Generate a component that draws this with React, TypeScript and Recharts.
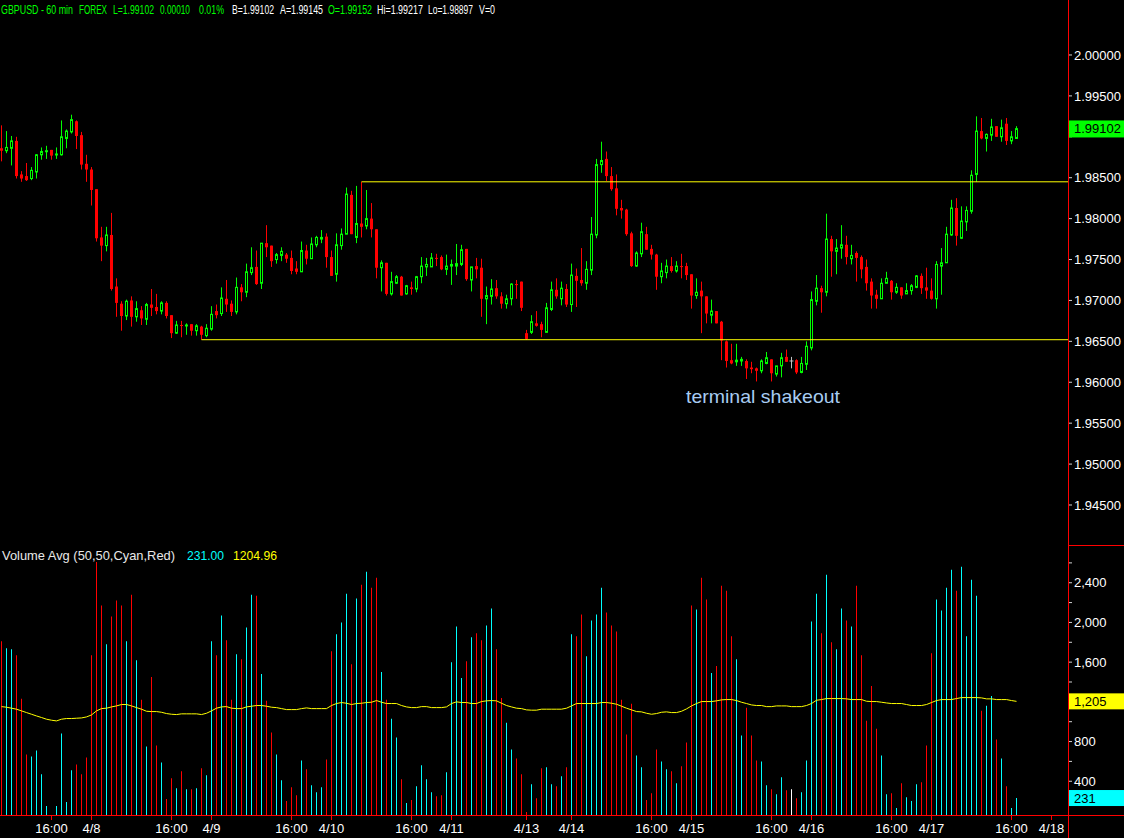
import React from "react";
import { ComposedChart, Bar, Line, XAxis, YAxis, Cell, ReferenceLine } from "recharts";

// GBPUSD hourly candles, bar 0 .. 203
const opens = [
  1.9886, 1.9883, 1.9886, 1.9895, 1.9854, 1.9852, 1.9849, 1.9857, 1.9878, 1.9882,
  1.9884, 1.9878, 1.9878, 1.9898, 1.9906, 1.9919, 1.9902, 1.9867, 1.986, 1.9836,
  1.9777, 1.9767, 1.978, 1.9717, 1.9696, 1.9681, 1.97, 1.968, 1.9688, 1.9677,
  1.9695, 1.9692, 1.9687, 1.9697, 1.9682, 1.966, 1.967, 1.9669, 1.9671, 1.9663,
  1.9668, 1.9657, 1.9665, 1.9687, 1.9684, 1.9702, 1.9696, 1.9686, 1.9716, 1.971,
  1.9734, 1.9741, 1.9721, 1.977, 1.9767, 1.975, 1.9755, 1.9756, 1.9752, 1.9739,
  1.9735, 1.9761, 1.9751, 1.9768, 1.9775, 1.9778, 1.9753, 1.9732, 1.9767, 1.9781,
  1.9829, 1.9777, 1.9794, 1.9791, 1.98, 1.9787, 1.974, 1.9746, 1.9708, 1.9721,
  1.9729, 1.9708, 1.9716, 1.9714, 1.9729, 1.9741, 1.9741, 1.9752, 1.9753, 1.9738,
  1.9742, 1.9742, 1.9744, 1.9763, 1.9725, 1.9742, 1.974, 1.9702, 1.9705, 1.9715,
  1.9705, 1.9696, 1.9702, 1.972, 1.9723, 1.966, 1.9661, 1.9672, 1.9671, 1.9661,
  1.9689, 1.9713, 1.9702, 1.9714, 1.9695, 1.973, 1.9725, 1.9721, 1.9737, 1.978,
  1.9866, 1.9873, 1.9852, 1.9837, 1.9813, 1.9811, 1.9782, 1.9742, 1.9757, 1.9781,
  1.9763, 1.9756, 1.9729, 1.9734, 1.9742, 1.9736, 1.9742, 1.9742, 1.9732, 1.9706,
  1.9712, 1.9705, 1.9682, 1.9687, 1.9674, 1.965, 1.9627, 1.9625, 1.9626, 1.9626,
  1.9618, 1.9617, 1.9614, 1.9623, 1.9628, 1.961, 1.962, 1.9631, 1.9626, 1.9627,
  1.9612, 1.9622, 1.9642, 1.9699, 1.9715, 1.971, 1.9775, 1.976, 1.9764, 1.9768,
  1.9751, 1.9758, 1.9753, 1.9741, 1.9723, 1.9707, 1.9702, 1.9721, 1.9724, 1.971,
  1.9716, 1.9708, 1.9712, 1.9716, 1.973, 1.9716, 1.9712, 1.9702, 1.9742, 1.9746,
  1.978, 1.9813, 1.9776, 1.9796, 1.9809, 1.9854, 1.9907, 1.9898, 1.9902, 1.9913,
  1.99, 1.9916, 1.9895, 1.9898,
];
const highs = [
  1.9914, 1.9907, 1.9901, 1.99, 1.9858, 1.9868, 1.9863, 1.9879, 1.9887, 1.9889,
  1.9884, 1.9887, 1.992, 1.9909, 1.9927, 1.992, 1.9906, 1.9878, 1.9863, 1.9836,
  1.979, 1.979, 1.9807, 1.9727, 1.9699, 1.9701, 1.9705, 1.9699, 1.9693, 1.9697,
  1.9714, 1.9708, 1.9699, 1.9699, 1.9682, 1.9675, 1.9675, 1.9672, 1.9671, 1.9671,
  1.9669, 1.9671, 1.9693, 1.9695, 1.9716, 1.9725, 1.97, 1.9728, 1.972, 1.9745,
  1.9765, 1.9761, 1.977, 1.9792, 1.9767, 1.9758, 1.9765, 1.9758, 1.9761, 1.9748,
  1.9772, 1.9768, 1.9777, 1.9779, 1.9786, 1.9782, 1.9761, 1.9782, 1.9788, 1.9838,
  1.9834, 1.984, 1.9845, 1.9835, 1.9819, 1.9787, 1.9749, 1.9746, 1.9735, 1.9731,
  1.973, 1.9719, 1.9723, 1.973, 1.9753, 1.9752, 1.9758, 1.9757, 1.9755, 1.9756,
  1.975, 1.9769, 1.9768, 1.9763, 1.9741, 1.9752, 1.9751, 1.9717, 1.9726, 1.9725,
  1.971, 1.9707, 1.9721, 1.9725, 1.9723, 1.9664, 1.9682, 1.9687, 1.9674, 1.9697,
  1.9723, 1.9727, 1.9723, 1.972, 1.9745, 1.9739, 1.9764, 1.9748, 1.9802, 1.9873,
  1.9894, 1.9882, 1.9863, 1.9854, 1.9823, 1.9812, 1.9784, 1.976, 1.9795, 1.979,
  1.9768, 1.9757, 1.9746, 1.975, 1.9753, 1.9748, 1.9757, 1.9746, 1.9732, 1.9727,
  1.9723, 1.9705, 1.9701, 1.9687, 1.9675, 1.9651, 1.9647, 1.9647, 1.9631, 1.9628,
  1.9625, 1.9618, 1.9628, 1.9637, 1.9628, 1.962, 1.9636, 1.964, 1.9631, 1.9628,
  1.9631, 1.965, 1.9711, 1.9731, 1.9718, 1.9806, 1.9779, 1.9775, 1.9792, 1.9779,
  1.9768, 1.976, 1.9755, 1.975, 1.9727, 1.9713, 1.9727, 1.9735, 1.9725, 1.9721,
  1.9716, 1.9721, 1.972, 1.9731, 1.9733, 1.974, 1.9727, 1.9748, 1.9764, 1.979,
  1.9823, 1.9825, 1.9815, 1.9815, 1.9859, 1.9925, 1.9923, 1.9904, 1.9922, 1.9913,
  1.9921, 1.9923, 1.9907, 1.9913,
];
const lows = [
  1.987, 1.988, 1.9865, 1.9849, 1.9845, 1.9846, 1.9847, 1.9849, 1.9872, 1.9873,
  1.9872, 1.9873, 1.9877, 1.9886, 1.9904, 1.9885, 1.986, 1.9845, 1.9816, 1.9772,
  1.9748, 1.976, 1.9712, 1.968, 1.9663, 1.9676, 1.9668, 1.9674, 1.967, 1.967,
  1.9681, 1.9683, 1.9683, 1.9678, 1.9654, 1.9659, 1.9655, 1.9658, 1.9657, 1.9657,
  1.9652, 1.9655, 1.9663, 1.9678, 1.9681, 1.9686, 1.9681, 1.9683, 1.9699, 1.9704,
  1.9731, 1.9719, 1.9714, 1.9753, 1.9741, 1.9745, 1.9748, 1.9746, 1.9732, 1.9732,
  1.9735, 1.9744, 1.9751, 1.9765, 1.977, 1.974, 1.973, 1.9723, 1.9762, 1.9781,
  1.9781, 1.977, 1.9777, 1.9787, 1.9777, 1.9727, 1.9711, 1.9706, 1.9706, 1.972,
  1.9706, 1.9707, 1.9707, 1.971, 1.9721, 1.973, 1.9741, 1.9742, 1.9737, 1.9731,
  1.9719, 1.9731, 1.9742, 1.9724, 1.9711, 1.9727, 1.968, 1.9671, 1.9695, 1.9702,
  1.969, 1.969, 1.9694, 1.9702, 1.9687, 1.9652, 1.9659, 1.9668, 1.9655, 1.9661,
  1.9687, 1.9702, 1.9694, 1.9692, 1.9686, 1.9692, 1.9718, 1.9713, 1.9731, 1.9776,
  1.9856, 1.9846, 1.9834, 1.9804, 1.98, 1.9779, 1.9741, 1.9741, 1.9753, 1.9762,
  1.975, 1.9713, 1.9721, 1.9727, 1.9734, 1.9734, 1.9727, 1.9725, 1.969, 1.9702,
  1.966, 1.9672, 1.9672, 1.9672, 1.9627, 1.9618, 1.9622, 1.962, 1.962, 1.9604,
  1.9611, 1.9601, 1.9611, 1.9622, 1.9601, 1.9607, 1.9606, 1.9625, 1.9617, 1.961,
  1.9611, 1.9615, 1.9639, 1.9694, 1.9685, 1.9705, 1.9729, 1.9732, 1.9751, 1.9744,
  1.9744, 1.9723, 1.9727, 1.9712, 1.969, 1.969, 1.9702, 1.9721, 1.9701, 1.9708,
  1.9702, 1.9708, 1.9707, 1.9715, 1.9708, 1.9702, 1.9701, 1.969, 1.9707, 1.9746,
  1.9779, 1.9767, 1.9775, 1.9785, 1.9806, 1.9845, 1.9897, 1.9882, 1.9895, 1.99,
  1.9894, 1.989, 1.9891, 1.9898,
];
const closes = [
  1.9883, 1.9887, 1.9895, 1.9852, 1.9849, 1.9847, 1.9859, 1.9878, 1.9882, 1.9883,
  1.9877, 1.9879, 1.99, 1.9907, 1.9921, 1.9901, 1.9866, 1.986, 1.9835, 1.9776,
  1.9767, 1.978, 1.9714, 1.9697, 1.9681, 1.9699, 1.968, 1.969, 1.9678, 1.9695,
  1.9691, 1.9687, 1.9697, 1.9681, 1.966, 1.967, 1.9669, 1.967, 1.9663, 1.9669,
  1.9658, 1.9666, 1.9683, 1.9682, 1.9703, 1.9695, 1.9686, 1.9716, 1.971, 1.9735,
  1.974, 1.972, 1.977, 1.9765, 1.9748, 1.9756, 1.976, 1.9751, 1.9736, 1.9735,
  1.9761, 1.9751, 1.9769, 1.9777, 1.9777, 1.9753, 1.973, 1.9768, 1.9781, 1.983,
  1.9781, 1.9794, 1.979, 1.98, 1.9787, 1.974, 1.9746, 1.9708, 1.9723, 1.9729,
  1.9706, 1.9718, 1.9714, 1.9729, 1.9742, 1.9744, 1.9752, 1.9751, 1.9738, 1.9742,
  1.9744, 1.9745, 1.9762, 1.9726, 1.9741, 1.9738, 1.9702, 1.9706, 1.9714, 1.9705,
  1.9696, 1.9702, 1.972, 1.9719, 1.9691, 1.9653, 1.9674, 1.9669, 1.9664, 1.9691,
  1.9713, 1.9705, 1.9715, 1.9695, 1.9731, 1.9724, 1.9721, 1.9738, 1.9781, 1.9866,
  1.9871, 1.9852, 1.9836, 1.9812, 1.981, 1.9781, 1.9742, 1.9758, 1.9784, 1.9762,
  1.9756, 1.9729, 1.9736, 1.9742, 1.9736, 1.9742, 1.9741, 1.9731, 1.9706, 1.971,
  1.9705, 1.9684, 1.9687, 1.9672, 1.9651, 1.9626, 1.9623, 1.9627, 1.9628, 1.9617,
  1.9616, 1.9614, 1.9626, 1.963, 1.9611, 1.962, 1.963, 1.9625, 1.9626, 1.9612,
  1.9623, 1.9644, 1.9701, 1.9715, 1.971, 1.9775, 1.976, 1.9764, 1.9768, 1.9753,
  1.9755, 1.9752, 1.9738, 1.9721, 1.9706, 1.9702, 1.9721, 1.9727, 1.971, 1.9716,
  1.9706, 1.9712, 1.9718, 1.973, 1.9715, 1.9712, 1.9702, 1.9744, 1.9746, 1.9781,
  1.9813, 1.9779, 1.9797, 1.981, 1.9853, 1.9907, 1.9898, 1.9903, 1.9912, 1.99,
  1.9911, 1.9895, 1.99, 1.991,
];
const volumes = [
  1810, 1740, 1730, 1670, 1230, 670, 650, 710, 470, 150,
  60, 150, 880, 190, 510, 570, 470, 640, 1670, 2610,
  2170, 1780, 2060, 2220, 2170, 1810, 2280, 1620, 1220, 750,
  1450, 760, 590, 220, 430, 330, 500, 320, 320, 330,
  530, 460, 1810, 1670, 2070, 1820, 1220, 1680, 1630, 1950,
  2280, 2270, 1480, 1210, 890, 670, 410, 200, 340, 260,
  610, 520, 360, 290, 340, 620, 1710, 1880, 2000, 2290,
  1580, 2240, 2380, 2510, 2350, 2450, 1500, 1220, 1030, 840,
  420, 180, 210, 350, 560, 420, 290, 250, 260, 490,
  1600, 1960, 1440, 1610, 1850, 1890, 1820, 1970, 2140, 1730,
  1240, 990, 720, 630, 470, 90, 370, 230, 530, 540,
  370, 350, 450, 540, 1880, 1860, 2080, 1660, 2020, 2080,
  2350, 2100, 1970, 1910, 1220, 870, 1180, 660, 540, 210,
  280, 720, 600, 520, 500, 380, 550, 790, 2170, 2130,
  2450, 2230, 1490, 1560, 2370, 2320, 1860, 1630, 860, 1140,
  860, 610, 600, 360, 320, 270, 440, 310, 320, 230,
  290, 610, 2010, 2290, 1890, 2480, 1800, 1730, 2140, 2020,
  1960, 2370, 1670, 1010, 1360, 930, 660, 270, 280, 130,
  380, 240, 200, 370, 390, 760, 1690, 2230, 2120, 2350,
  2530, 2320, 2560, 1860, 2430, 2270, 1110, 1160, 1260, 820,
  630, 350, 130, 231,
];
// 50-bar volume average as drawn (yellow line)
const volumeAvg = [
  1152, 1146, 1136, 1126, 1109, 1092, 1075, 1058, 1042, 1025,
  1015, 1008, 1025, 1032, 1032, 1035, 1038, 1048, 1068, 1109,
  1132, 1136, 1149, 1159, 1173, 1173, 1159, 1142, 1126, 1105,
  1102, 1102, 1095, 1082, 1075, 1072, 1079, 1079, 1079, 1079,
  1072, 1085, 1109, 1136, 1149, 1152, 1136, 1132, 1132, 1149,
  1156, 1163, 1163, 1156, 1146, 1142, 1132, 1122, 1122, 1122,
  1132, 1139, 1132, 1132, 1132, 1132, 1163, 1183, 1193, 1186,
  1173, 1183, 1186, 1193, 1196, 1213, 1196, 1183, 1183, 1183,
  1163, 1149, 1142, 1142, 1152, 1152, 1142, 1142, 1142, 1149,
  1183, 1200, 1193, 1193, 1183, 1183, 1203, 1210, 1213, 1210,
  1186, 1163, 1149, 1136, 1132, 1119, 1116, 1116, 1126, 1126,
  1126, 1126, 1126, 1136, 1159, 1183, 1183, 1183, 1183, 1183,
  1193, 1193, 1186, 1176, 1156, 1136, 1119, 1102, 1099, 1085,
  1075, 1082, 1095, 1099, 1092, 1092, 1105, 1129, 1159, 1183,
  1203, 1203, 1203, 1210, 1220, 1223, 1223, 1213, 1196, 1183,
  1169, 1163, 1163, 1152, 1152, 1159, 1159, 1159, 1152, 1152,
  1152, 1163, 1183, 1216, 1223, 1233, 1233, 1233, 1233, 1230,
  1223, 1223, 1223, 1206, 1203, 1203, 1196, 1189, 1183, 1183,
  1183, 1173, 1163, 1163, 1163, 1173, 1193, 1213, 1223, 1223,
  1223, 1233, 1243, 1243, 1243, 1243, 1240, 1230, 1230, 1223,
  1223, 1223, 1213, 1205,
];

const tickIndex = [10, 18, 34, 42, 58, 66, 82, 90, 105, 114, 130, 138, 154, 162, 178, 186, 202, 210];
const tickLabels = [
  "16:00", "4/8", "16:00", "4/9", "16:00", "4/10", "16:00", "4/11", "4/13",
  "4/14", "16:00", "4/15", "16:00", "4/16", "16:00", "4/17", "16:00", "4/18",
];
const priceTicks = [1.945, 1.95, 1.955, 1.96, 1.965, 1.97, 1.975, 1.98, 1.985, 1.99, 1.995, 2.0];
const hiddenPriceLabel = 1.99; // sits under the last-price box
const lastPrice = 1.99102;
const volumeTicks = [200, 400, 600, 800, 1000, 1400, 1600, 1800, 2000, 2200, 2400, 2600];
const volumeLabeled = [400, 800, 1600, 2000, 2400];
const lastVolume = 231;
const lastAvg = 1205;

const resistance = { level: 1.9845, from: 72 };
const support = { level: 1.9652, from: 40 };

const X_DOMAIN: [number, number] = [-0.3, 213.3];
const PRICE_DOMAIN: [number, number] = [1.94011, 2.00672];
const VOLUME_DOMAIN: [number, number] = [60, 2750];

const GREEN = "#00ff00";
const RED = "#ff0000";
const CYAN = "#00ffff";
const YELLOW = "#ffff00";

const rows = opens.map((o, i) => ({
  i,
  open: o,
  high: highs[i],
  low: lows[i],
  close: closes[i],
  volume: volumes[i],
  avg: volumeAvg[i],
}));

function Candle(props: any) {
  const { x, y, width, height, payload } = props;
  const { open, high, low, close } = payload;
  const cx = Math.floor(x + width / 2) + 0.5;
  const top = Math.min(y, y + height);
  const h = Math.abs(height);
  const k = high > low ? h / (high - low) : 0;
  const yOf = (v: number) => top + (high - v) * k;
  const bTop = yOf(Math.max(open, close));
  const bBot = yOf(Math.min(open, close));
  if (close > open) {
    return (
      <g>
        <line x1={cx} x2={cx} y1={top} y2={top + h} stroke={GREEN} />
        <rect x={cx - 1} y={bTop} width={2} height={Math.max(bBot - bTop, 1)} fill="#000" stroke={GREEN} />
      </g>
    );
  }
  if (close < open) {
    return (
      <g>
        <line x1={cx} x2={cx} y1={top} y2={top + h} stroke={RED} />
        <rect x={cx - 1.5} y={bTop} width={3} height={Math.max(bBot - bTop, 1)} fill={RED} />
      </g>
    );
  }
  return (
    <g>
      <line x1={cx} x2={cx} y1={top} y2={top + h} stroke="#c0c0c0" />
      <line x1={cx - 2} x2={cx + 2} y1={bTop} y2={bTop} stroke="#c0c0c0" />
    </g>
  );
}

function PriceTick(props: any) {
  const { x, y, payload } = props;
  const v = payload.value;
  if (v === lastPrice) {
    return (
      <g>
        <rect x={1069} y={y - 8} width={55} height={17} fill={GREEN} />
        <text x={x} y={y} dy="0.36em" fill="#000" fontSize={13}>{v.toFixed(5)}</text>
      </g>
    );
  }
  if (v === hiddenPriceLabel) return <g />;
  return <text x={x} y={y} dy="0.36em" fill="#fff" fontSize={13}>{v.toFixed(5)}</text>;
}

function VolumeTick(props: any) {
  const { x, y, payload } = props;
  const v = payload.value;
  if (v === lastVolume || v === lastAvg) {
    return (
      <g>
        <rect x={1069} y={y - 8} width={55} height={16} fill={v === lastVolume ? CYAN : YELLOW} />
        <text x={x} y={y} dy="0.36em" fill="#000" fontSize={13}>{v.toLocaleString("en-US")}</text>
      </g>
    );
  }
  if (!volumeLabeled.includes(v)) return <g />;
  return <text x={x} y={y} dy="0.36em" fill="#fff" fontSize={13}>{v.toLocaleString("en-US")}</text>;
}

const volColor = (o: number, c: number) => (c > o ? CYAN : c < o ? RED : "#ffffff");

const header = [
  { t: "GBPUSD - 60 min", x: 1, w: 72, c: GREEN },
  { t: "FOREX", x: 79, w: 28, c: GREEN },
  { t: "L=1.99102", x: 113, w: 41, c: GREEN },
  { t: "0.00010", x: 160, w: 30, c: GREEN },
  { t: "0.01%", x: 199, w: 25, c: GREEN },
  { t: "B=1.99102", x: 232, w: 42, c: "#fff" },
  { t: "A=1.99145", x: 280, w: 43, c: "#fff" },
  { t: "O=1.99152", x: 328, w: 44, c: GREEN },
  { t: "Hi=1.99217", x: 377, w: 46, c: "#fff" },
  { t: "Lo=1.98897", x: 428, w: 45, c: "#fff" },
  { t: "V=0", x: 479, w: 16, c: "#fff" },
];

export default function App() {
  return (
    <div
      style={{
        position: "fixed",
        left: 0,
        top: 0,
        width: 1124,
        height: 838,
        background: "#000",
        overflow: "hidden",
        fontFamily: "'Liberation Sans', Arial, sans-serif",
      }}
    >
      <div style={{ position: "absolute", left: 0, top: 0 }}>
        <ComposedChart width={1124} height={545} data={rows} margin={{ top: 0, right: 0, bottom: 0, left: 0 }}>
          <XAxis dataKey="i" type="number" domain={X_DOMAIN} hide />
          <YAxis
            orientation="right"
            type="number"
            domain={PRICE_DOMAIN}
            allowDataOverflow
            ticks={[...priceTicks, lastPrice]}
            interval={0}
            width={56}
            axisLine={false}
            tickLine={{ stroke: "#d0d0d0" }}
            tickSize={4}
            tickMargin={2}
            tick={PriceTick}
          />
          <ReferenceLine
            segment={[{ x: resistance.from, y: resistance.level }, { x: X_DOMAIN[1], y: resistance.level }]}
            stroke={YELLOW}
          />
          <ReferenceLine
            segment={[{ x: support.from, y: support.level }, { x: X_DOMAIN[1], y: support.level }]}
            stroke={YELLOW}
          />
          <Bar
            dataKey={(d: any) => [d.low, d.high]}
            barSize={5}
            shape={(p: any) => <Candle {...p} />}
            isAnimationActive={false}
          />
        </ComposedChart>
      </div>

      <div style={{ position: "absolute", left: 0, top: 548 }}>
        <ComposedChart width={1124} height={290} data={rows} margin={{ top: 0, right: 0, bottom: 0, left: 0 }}>
          <XAxis
            dataKey="i"
            type="number"
            domain={X_DOMAIN}
            ticks={tickIndex}
            interval={0}
            tickFormatter={(v: number) => tickLabels[tickIndex.indexOf(v)] ?? ""}
            height={23}
            axisLine={false}
            tickLine={{ stroke: RED }}
            tickSize={5}
            tickMargin={4}
            tick={{ fill: "#fff", fontSize: 13 }}
          />
          <YAxis
            orientation="right"
            type="number"
            domain={VOLUME_DOMAIN}
            allowDataOverflow
            ticks={[...volumeTicks, lastAvg, lastVolume]}
            interval={0}
            width={56}
            axisLine={false}
            tickLine={{ stroke: "#d0d0d0" }}
            tickSize={4}
            tickMargin={2}
            tick={VolumeTick}
          />
          <Bar dataKey="volume" barSize={1} isAnimationActive={false}>
            {rows.map((r) => (
              <Cell key={r.i} fill={volColor(r.open, r.close)} />
            ))}
          </Bar>
          <Line type="linear" dataKey="avg" stroke={YELLOW} strokeWidth={1} dot={false} isAnimationActive={false} />
        </ComposedChart>
      </div>

      <svg width={1124} height={838} style={{ position: "absolute", left: 0, top: 0, pointerEvents: "none" }}>
        <line x1={1068.5} x2={1068.5} y1={0} y2={838} stroke={RED} />
        <line x1={1068} x2={1124} y1={545.5} y2={545.5} stroke={RED} />
        <line x1={0} x2={1124} y1={815.5} y2={815.5} stroke={RED} />
        <g transform="translate(0,14) scale(1,1.3)">
          {header.map((h) => (
            <text key={h.t} x={h.x} y={0} fill={h.c} fontSize={9.5} textLength={h.w} lengthAdjust="spacingAndGlyphs">
              {h.t}
            </text>
          ))}
        </g>
        <text x={2} y={560} fill="#e8e8e8" fontSize={13} textLength={173} lengthAdjust="spacingAndGlyphs">
          Volume Avg (50,50,Cyan,Red)
        </text>
        <text x={187} y={560} fill={CYAN} fontSize={13} textLength={37} lengthAdjust="spacingAndGlyphs">
          231.00
        </text>
        <text x={233} y={560} fill={YELLOW} fontSize={13} textLength={44} lengthAdjust="spacingAndGlyphs">
          1204.96
        </text>
        <text x={686} y={403} fill="#a8ccf2" fontSize={19} textLength={154} lengthAdjust="spacingAndGlyphs">
          terminal shakeout
        </text>
      </svg>
    </div>
  );
}
